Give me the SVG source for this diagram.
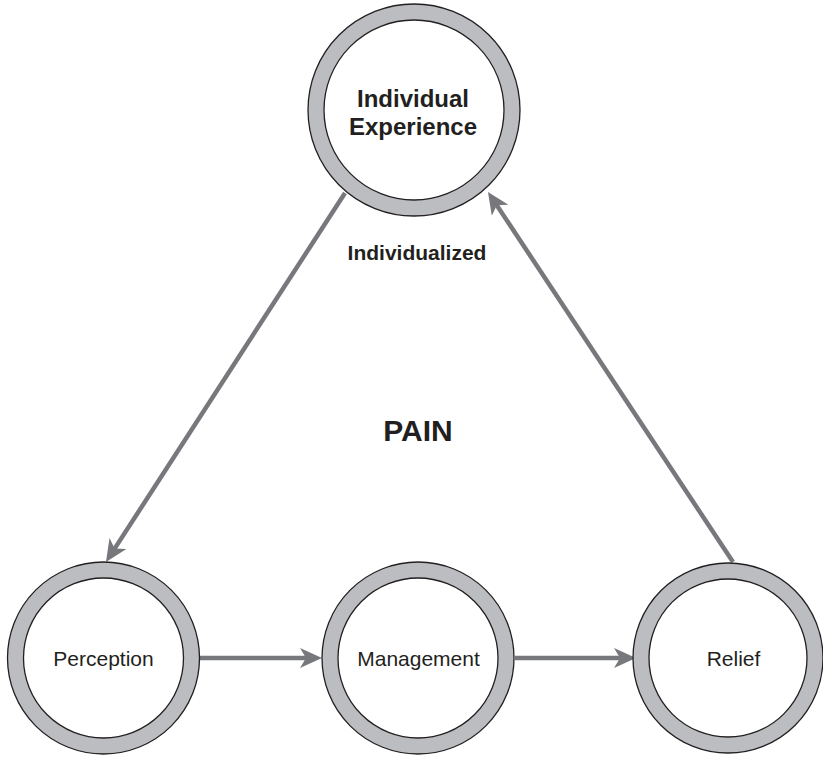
<svg xmlns="http://www.w3.org/2000/svg" width="823" height="758" viewBox="0 0 823 758">
<style>
.ring{fill:#bcbdc0;stroke:#231f20;stroke-width:1.3}
.inner{fill:#ffffff;stroke:#231f20;stroke-width:1.3}
.conn{stroke:#77787b;stroke-width:4.5;fill:none;marker-end:url(#ah)}
.lbl{font-family:"Liberation Sans",Arial,sans-serif;fill:#231f20;text-anchor:middle}
.b{font-weight:bold}
</style>
<defs>
<marker id="ah" viewBox="0 0 22 20" markerWidth="22" markerHeight="20" refX="12" refY="10" markerUnits="userSpaceOnUse" orient="auto">
<path d="M0,0 L22,10 L0,20 L6,10 Z" fill="#77787b"/>
</marker>
</defs>
<rect width="823" height="758" fill="#ffffff"/>
<g id="connectors">
<line class="conn" x1="345" y1="193" x2="111.4" y2="553.6"/>
<line class="conn" x1="200" y1="658" x2="312" y2="658"/>
<line class="conn" x1="515" y1="658" x2="626" y2="658"/>
<line class="conn" x1="733" y1="562" x2="493.5" y2="200.3"/>
</g>
<g id="individual-experience">
<circle class="ring" cx="414" cy="110" r="106"/>
<circle class="inner" cx="414" cy="110" r="90"/>
<text class="lbl b" x="413" y="107" font-size="24">Individual</text>
<text class="lbl b" x="413" y="135" font-size="24">Experience</text>
</g>
<g id="perception">
<circle class="ring" cx="103.5" cy="658" r="96"/>
<circle class="inner" cx="103.5" cy="658" r="80"/>
<text class="lbl" x="103.5" y="666" font-size="21">Perception</text>
</g>
<g id="management">
<circle class="ring" cx="418" cy="658" r="96"/>
<circle class="inner" cx="418" cy="658" r="80"/>
<text class="lbl" x="418.5" y="666" font-size="21">Management</text>
</g>
<g id="relief">
<circle class="ring" cx="728" cy="658" r="95"/>
<circle class="inner" cx="728" cy="658" r="79"/>
<text class="lbl" x="733.5" y="666" font-size="21">Relief</text>
</g>
<text class="lbl b" x="417" y="260" font-size="21">Individualized</text>
<text class="lbl b" x="418" y="441" font-size="30">PAIN</text>
</svg>
